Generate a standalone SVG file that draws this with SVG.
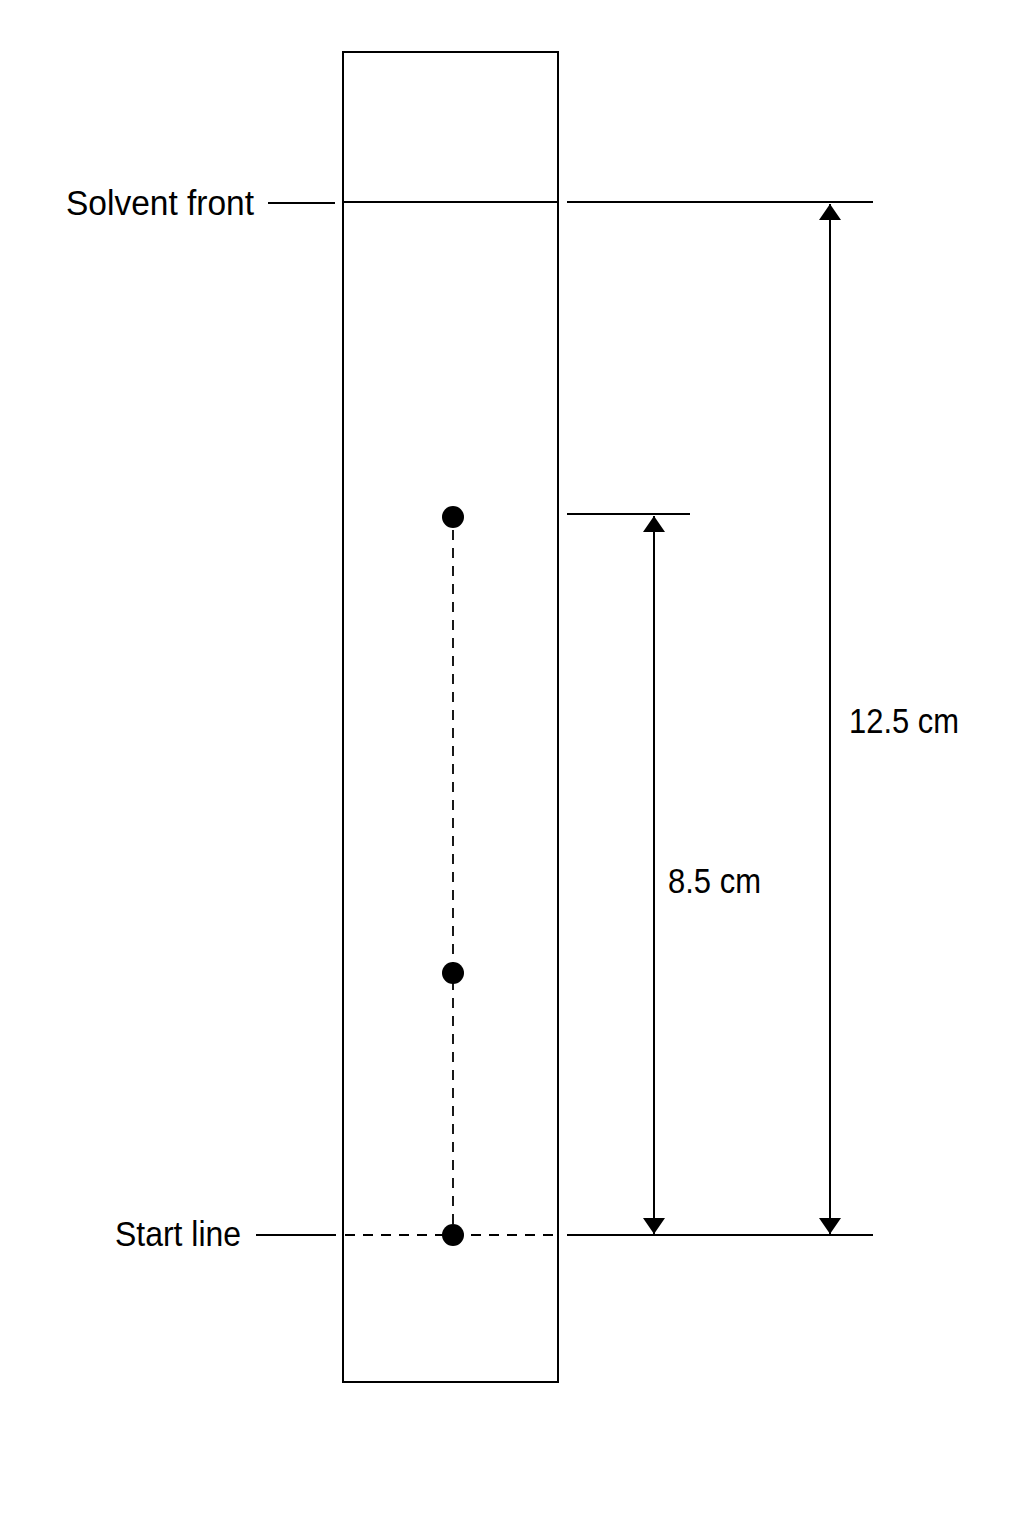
<svg xmlns="http://www.w3.org/2000/svg" width="1024" height="1536" viewBox="0 0 1024 1536">
<style>
.ln{stroke:#000;stroke-width:2;fill:none}
.dash{stroke:#000;stroke-width:1.8;fill:none;stroke-dasharray:10 8}
.lbl{font-family:"Liberation Sans",Arial,sans-serif;font-size:35px;fill:#000}
</style>
<defs>
<marker id="ah" viewBox="0 0 16 22" refX="16" refY="11" markerWidth="16" markerHeight="22" markerUnits="userSpaceOnUse" orient="auto">
<path d="M0,0 L16,11 L0,22 Z" fill="#000"/>
</marker>
</defs>
<rect width="1024" height="1536" fill="#fff"/>
<g id="plate">
<rect class="ln" x="343" y="52" width="215" height="1330"/>
<line class="ln" x1="343" y1="202" x2="558" y2="202"/>
<line class="dash" x1="345" y1="1235" x2="556" y2="1235"/>
</g>
<g id="spots">
<line class="dash" x1="453" y1="530" x2="453" y2="1225"/>
<circle cx="453" cy="517" r="11" fill="#000"/>
<circle cx="453" cy="973" r="11" fill="#000"/>
<circle cx="453" cy="1235" r="11" fill="#000"/>
</g>
<g id="connectors">
<line class="ln" x1="268" y1="203" x2="335" y2="203"/>
<line class="ln" x1="567" y1="202" x2="873" y2="202"/>
<line class="ln" x1="256" y1="1235" x2="336" y2="1235"/>
<line class="ln" x1="567" y1="1235" x2="873" y2="1235"/>
<line class="ln" x1="567" y1="514" x2="690" y2="514"/>
<line class="ln" x1="654" y1="870" x2="654" y2="516" marker-end="url(#ah)"/>
<line class="ln" x1="654" y1="870" x2="654" y2="1234" marker-end="url(#ah)"/>
<line class="ln" x1="830" y1="720" x2="830" y2="204" marker-end="url(#ah)"/>
<line class="ln" x1="830" y1="720" x2="830" y2="1234" marker-end="url(#ah)"/>
</g>
<g id="labels">
<text class="lbl" x="66" y="215" textLength="188" lengthAdjust="spacingAndGlyphs">Solvent front</text>
<text class="lbl" x="115" y="1246" textLength="126" lengthAdjust="spacingAndGlyphs">Start line</text>
<text class="lbl" x="849" y="733" textLength="110" lengthAdjust="spacingAndGlyphs">12.5 cm</text>
<text class="lbl" x="668" y="893" textLength="93" lengthAdjust="spacingAndGlyphs">8.5 cm</text>
</g>
</svg>
